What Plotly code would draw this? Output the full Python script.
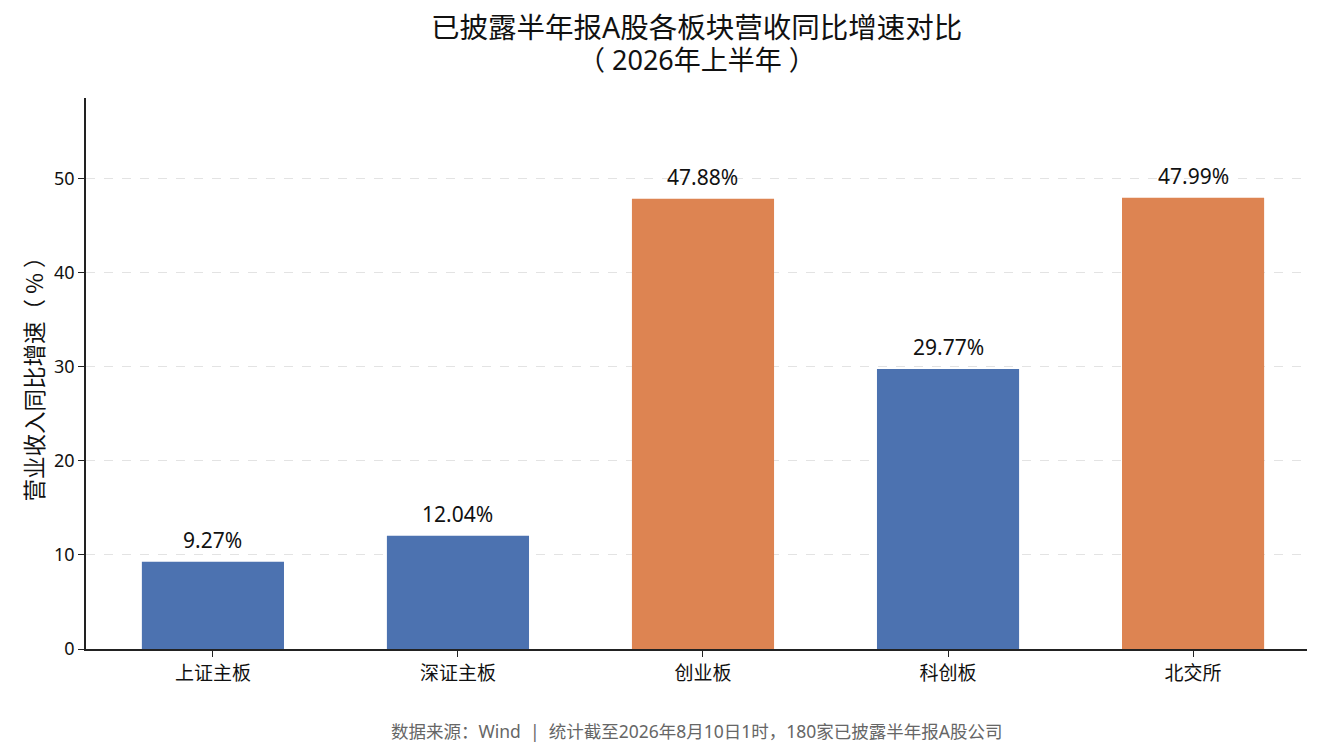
import plotly.graph_objects as go

# 各板块营收同比增速（%）
boards = ["上证主板", "深证主板", "创业板", "科创板", "北交所"]
growth = [9.27, 12.04, 47.88, 29.77, 47.99]
bar_colors = ["#4C72B0", "#4C72B0", "#DD8452", "#4C72B0", "#DD8452"]
y_ticks = [0, 10, 20, 30, 40, 50]

FONT = "Noto Sans, Noto Sans CJK SC"
CJK = "Noto Sans CJK SC"

fig = go.Figure()
fig.add_trace(go.Bar(
    x=list(range(len(boards))),
    y=growth,
    width=0.58,
    marker=dict(color=bar_colors, line=dict(width=0)),
    hoverinfo="skip",
))

# value labels above the bars
for i, v in enumerate(growth):
    fig.add_annotation(
        x=i, y=v, text=f"{v:.2f}%",
        xref="x", yref="y", yshift=22,
        xanchor="center", yanchor="middle", showarrow=False,
        font=dict(family=FONT, size=21, color="#111111"),
    )

fig.update_layout(
    width=1335,
    height=756,
    paper_bgcolor="white",
    plot_bgcolor="white",
    showlegend=False,
    font=dict(family=FONT, color="#111111"),
    margin=dict(l=78, r=36, t=90, b=115),
)

# title, two lines placed separately
fig.add_annotation(
    text="已披露半年报A股各板块营收同比增速对比",
    xref="paper", yref="paper", x=0.5, y=1.129,
    xanchor="center", yanchor="middle", showarrow=False,
    font=dict(family=FONT, size=28.5, color="#111111"),
)
fig.add_annotation(
    text="（ 2026年上半年 ）",
    xref="paper", yref="paper", x=0.5, y=1.07,
    xanchor="center", yanchor="middle", showarrow=False,
    font=dict(family=FONT, size=27, color="#111111"),
)

fig.update_xaxes(
    tickmode="array",
    tickvals=list(range(len(boards))),
    ticktext=boards,
    range=[-0.518, 4.465],
    showline=True, linecolor="#222222", linewidth=1.5,
    ticks="outside", ticklen=6, tickcolor="#222222",
    tickfont=dict(family=FONT, size=19, color="#111111"),
    showgrid=False, zeroline=False,
)

fig.update_yaxes(
    range=[0, 58.6],
    tickmode="array",
    tickvals=y_ticks,
    showline=True, linecolor="#222222", linewidth=1.5,
    ticks="outside", ticklen=6, tickcolor="#222222",
    tickfont=dict(family=FONT, size=18, color="#111111"),
    showgrid=True, gridcolor="#e3e3e3", griddash="dash", gridwidth=1,
    zeroline=False,
    title=dict(text="营业收入同比增速（ % ）",
               font=dict(family=CJK, size=22.5, color="#111111"), standoff=4),
)

fig.add_annotation(
    text="数据来源：Wind  |  统计截至2026年8月10日1时，180家已披露半年报A股公司",
    xref="paper", yref="paper",
    x=0.5, y=-0.149, xanchor="center", yanchor="middle",
    showarrow=False,
    font=dict(family=FONT, size=17.5, color="#666666"),
)

fig.write_html("out.html")
